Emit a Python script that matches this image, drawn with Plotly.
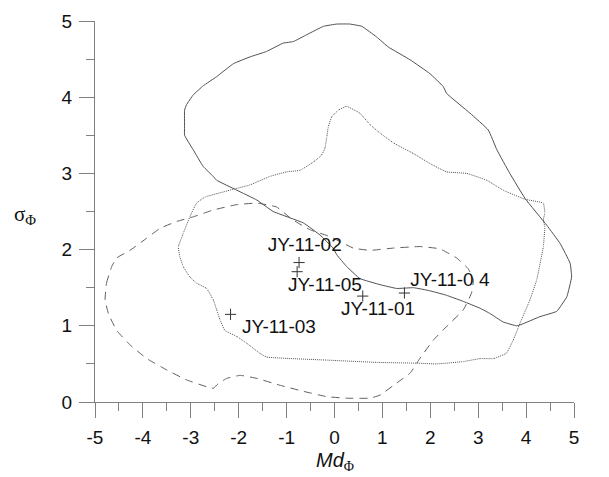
import plotly.graph_objects as go

# Sample points (Md_phi, sigma_phi)
sample_names = ["JY-11-02", "JY-11-05", "JY-11-01", "JY-11-04", "JY-11-03"]
sample_x = [-0.74, -0.78, 0.59, 1.46, -2.17]
sample_y = [1.83, 1.71, 1.39, 1.43, 1.15]

# label texts and their positions
label_text = ["JY-11-02", "JY-11-05", "JY-11-01", "JY-11-0 4", "JY-11-03"]
label_x = [-0.62, -0.20, 0.91, 2.41, -1.16]
label_y = [2.04, 1.52, 1.21, 1.59, 0.97]

# Solid envelope
solid_x = [-3.13, -3.13, -3.13, -3.09, -2.95, -2.74, -2.46, -2.11, -1.76, -1.42, -1.07, -0.86,
           -0.58, -0.23, 0.05, 0.32, 0.57, 0.88, 1.12, 1.58, 1.99, 2.27, 2.34, 2.83, 3.21, 3.39,
           3.66, 3.98, 4.43, 4.71, 4.92, 4.95, 4.85, 4.64, 4.29, 3.87, 3.80, 3.52, 3.25, 3.04,
           2.69, 2.34, 1.99, 1.65, 1.30, 0.95, 0.53, 0.25, 0.05, -0.03, -0.30, -0.65, -1.28,
           -1.62, -2.04, -2.46, -2.53, -2.74, -2.95, -3.13]
solid_y = [3.50, 3.61, 3.83, 3.90, 4.03, 4.15, 4.27, 4.44, 4.53, 4.60, 4.71, 4.73,
           4.82, 4.93, 4.96, 4.96, 4.93, 4.79, 4.66, 4.49, 4.31, 4.14, 4.05, 3.79, 3.57, 3.31,
           3.00, 2.67, 2.32, 2.08, 1.82, 1.64, 1.38, 1.19, 1.12, 1.01, 1.00, 1.05, 1.16, 1.23,
           1.32, 1.40, 1.46, 1.50, 1.49, 1.54, 1.62, 1.78, 1.93, 2.02, 2.19, 2.35, 2.50,
           2.65, 2.78, 2.91, 2.96, 3.09, 3.31, 3.50]

# Dotted envelope
dotted_x = [0.25, 0.53, 0.74, 0.95, 1.23, 1.65, 1.99, 2.34, 2.76, 3.18, 3.52, 3.98, 4.36, 4.39,
            4.36, 4.39, 4.36, 4.22, 4.08, 3.87, 3.73, 3.59, 3.32, 3.04, 2.69, 2.13, 1.72, 0.88,
            -0.16, -1.42, -1.56, -1.83, -2.04, -2.29, -2.39, -2.46, -2.53, -2.67, -2.88, -3.02,
            -3.16, -3.23, -3.26, -3.16, -3.02, -2.88, -2.70, -2.18, -1.76, -1.35, -1.00, -0.72,
            -0.44, -0.27, -0.20, -0.16, -0.13, -0.06, 0.08, 0.25]
dotted_y = [3.88, 3.79, 3.64, 3.53, 3.40, 3.26, 3.13, 3.02, 3.00, 2.91, 2.78, 2.66, 2.61, 2.48,
            2.39, 2.30, 2.04, 1.60, 1.34, 1.03, 0.81, 0.64, 0.57, 0.57, 0.53, 0.50, 0.51, 0.52,
            0.55, 0.59, 0.64, 0.77, 0.86, 0.94, 1.08, 1.21, 1.34, 1.49, 1.56, 1.64,
            1.78, 1.91, 2.04, 2.21, 2.43, 2.61, 2.69, 2.78, 2.85, 2.96, 3.02, 3.04,
            3.15, 3.24, 3.33, 3.48, 3.61, 3.74, 3.83, 3.88]

# Dashed envelope
dashed_x = [-4.79, -4.76, -4.65, -4.55, -4.27, -3.92, -3.64, -3.29, -2.95, -2.53, -2.04, -1.62,
            -1.21, -0.87, -0.51, -0.09, 0.39, 0.74, 1.23, 1.78, 2.20, 2.55, 2.79, 2.90, 2.86,
            2.69, 2.34, 2.06, 1.78, 1.58, 1.30, 0.95, 0.74, 0.25, -0.16, -0.65, -1.14, -1.62,
            -1.97, -2.25, -2.43, -2.53, -2.67, -3.09, -3.50, -3.92, -4.27, -4.55, -4.72, -4.79]
dashed_y = [1.34, 1.56, 1.78, 1.89, 1.99, 2.15, 2.28, 2.37, 2.43, 2.52, 2.59, 2.61,
            2.56, 2.39, 2.26, 2.17, 2.02, 1.99, 2.02, 2.04, 2.01, 1.89, 1.75, 1.60, 1.43,
            1.21, 0.99, 0.81, 0.57, 0.38, 0.25, 0.09, 0.05, 0.05, 0.07, 0.14, 0.22, 0.31,
            0.35, 0.31, 0.24, 0.18, 0.20, 0.29, 0.42, 0.57, 0.75, 0.94, 1.16, 1.34]

x_ticks = [-5, -4, -3, -2, -1, 0, 1, 2, 3, 4, 5]
y_ticks = [0, 1, 2, 3, 4, 5]

fig = go.Figure()
fig.add_trace(go.Scatter(x=solid_x, y=solid_y, mode="lines",
                         line=dict(color="#505050", width=1, shape="spline", smoothing=0.3)))
fig.add_trace(go.Scatter(x=dotted_x, y=dotted_y, mode="lines",
                         line=dict(color="#555555", width=1, dash="1px,1px", shape="spline", smoothing=0.3)))
fig.add_trace(go.Scatter(x=dashed_x, y=dashed_y, mode="lines",
                         line=dict(color="#606060", width=1, dash="8px,6px", shape="spline", smoothing=0.3)))
fig.add_trace(go.Scatter(x=sample_x, y=sample_y, mode="markers",
                         marker=dict(symbol="cross-thin", size=8, line=dict(color="#333333", width=1))))
fig.add_trace(go.Scatter(x=label_x, y=label_y, mode="text", text=label_text,
                         textfont=dict(family="Liberation Sans, Arial", size=19, color="#111111")))

axis_common = dict(showgrid=False, zeroline=False, showline=True, linecolor="#808080", linewidth=1,
                   ticks="outside", ticklen=15, tickcolor="#808080", tickwidth=1, automargin=False,
                   tickfont=dict(family="Liberation Sans, Arial", size=19, color="#111111"))

fig.update_xaxes(range=[-5, 5], tickvals=x_ticks, ticktext=[str(v) for v in x_ticks],
                 minor=dict(dtick=0.5, ticks="outside", ticklen=8, tickcolor="#808080", tick0=-5),
                 ticklabelstandoff=3, **axis_common)
fig.update_yaxes(range=[0, 5], tickvals=y_ticks, ticktext=[str(v) for v in y_ticks],
                 minor=dict(dtick=0.5, ticks="outside", ticklen=8, tickcolor="#808080", tick0=0),
                 ticklabelstandoff=3, **axis_common)

fig.add_annotation(xref="paper", yref="paper", x=-0.173, y=0.49, showarrow=False,
                   text="<span style='font-family:Liberation Serif'>σ<sub>Φ</sub></span>",
                   font=dict(size=21, color="#111111"))
fig.add_annotation(xref="paper", yref="paper", x=0.5, y=-0.155, showarrow=False, yanchor="middle",
                   text="<i>Md</i><span style='font-family:Liberation Serif'><sub>Φ</sub></span>",
                   font=dict(family="Liberation Sans, Arial", size=20, color="#111111"))

fig.update_layout(width=601, height=469, showlegend=False,
                  paper_bgcolor="white", plot_bgcolor="white",
                  margin=dict(l=87, r=35, t=13, b=75))
fig.update_traces(cliponaxis=False)
fig.write_html("out.html")
